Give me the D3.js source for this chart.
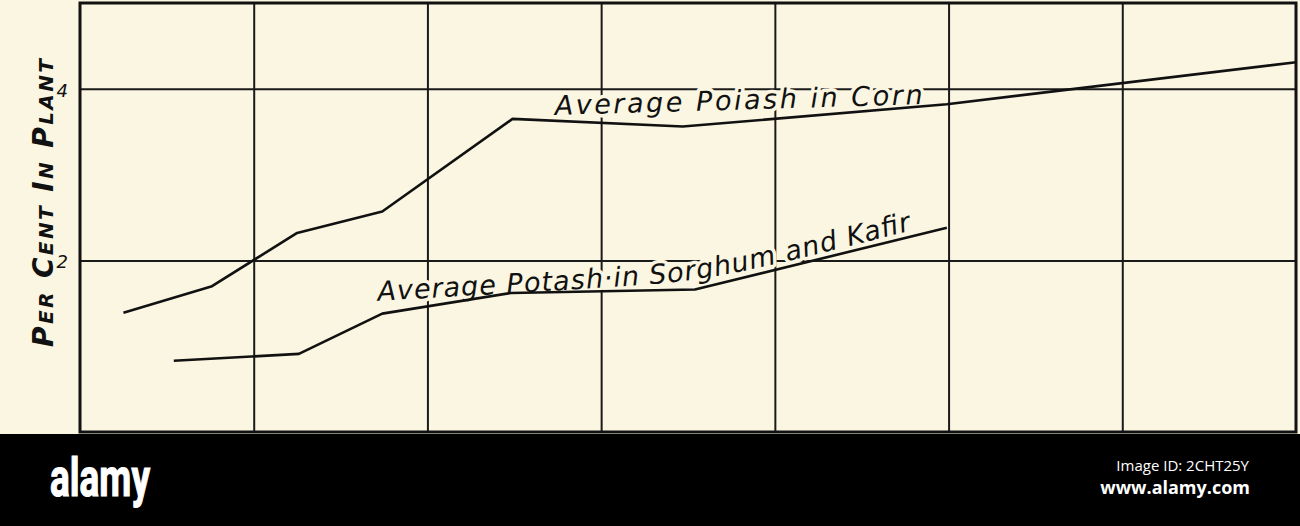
<!DOCTYPE html>
<html>
<head>
<meta charset="utf-8">
<script src="https://cdn.jsdelivr.net/npm/d3@7"></script>
<style>
  html, body { margin: 0; padding: 0; background: #000; }
  svg { display: block; }
  .grid line { stroke: #1a1a1a; stroke-width: 2; }
  .grid .domain { display: none; }
  .hand { font-family: "DejaVu Sans", "Liberation Sans", sans-serif; font-style: italic; fill: #111; }
</style>
</head>
<body>
<svg id="chart" width="1300" height="526"></svg>
<script>
// Values (x = position along the horizontal, y = per cent potash in plant)
var cornX   = [0.25, 0.76, 1.25, 1.74, 2.49, 3.47, 4.99, 7.00];
var cornPct = [1.39, 1.70, 2.32, 2.57, 3.65, 3.56, 3.82, 4.31];

var sorghumX   = [0.54, 1.26, 1.74, 2.48, 3.54, 4.99];
var sorghumPct = [0.83, 0.91, 1.38, 1.62, 1.66, 2.38];

var xGridValues = [1, 2, 3, 4, 5, 6];
var yTickValues = [2, 4];
var yTickLabels = ['2', '4'];

var cornLabel    = 'Average Poiash in Corn';
var sorghumLabel = 'Average Potash\u00b7in Sorghum and Kafir';
var yTitleWords  = ['PER', 'CENT', 'IN', 'PLANT'];

var paper = '#faf6e2';

var svg = d3.select('#chart');

// plate area (the black strip under it is the stock-photo footer)
var plate = { left: 80, right: 1296, top: 3, bottom: 432 };

svg.append('rect')
	.attr('x', 0).attr('y', 0)
	.attr('width', 1300).attr('height', 434)
	.attr('fill', paper);

var x = d3.scaleLinear().domain([0, 7]).range([plate.left, plate.right]);
var y = d3.scaleLinear().domain([0, 5]).range([plate.bottom, plate.top]);

var innerW = plate.right - plate.left;
var innerH = plate.bottom - plate.top;

// vertical rules
svg.append('g')
	.attr('class', 'grid')
	.attr('transform', 'translate(0,' + plate.bottom + ')')
	.call(d3.axisBottom(x).tickValues(xGridValues).tickSize(-innerH).tickFormat(''));

// horizontal rules with the 2 and 4 marks
var yAxis = svg.append('g')
	.attr('class', 'grid')
	.attr('transform', 'translate(' + plate.left + ',0)')
	.call(d3.axisLeft(y)
		.tickValues(yTickValues)
		.tickSize(-innerW)
		.tickPadding(12)
		.tickFormat(function(d, i) { return yTickLabels[i]; }));

yAxis.selectAll('text')
	.attr('class', 'hand')
	.style('font-size', '18px')
	.attr('dy', '0.4em');

// frame
svg.append('rect')
	.attr('x', x(0)).attr('y', y(5))
	.attr('width', innerW).attr('height', innerH)
	.attr('fill', 'none')
	.attr('stroke', '#111')
	.attr('stroke-width', 3);

// lettering goes under the curves; its paper-coloured halo breaks the rules like the drafting did
function halo(sel) {
	sel.attr('stroke', paper)
		.attr('stroke-width', 7)
		.attr('stroke-linejoin', 'round')
		.attr('paint-order', 'stroke');
}

var cornAt = [2.734, 3.695];
svg.append('text')
	.attr('class', 'hand')
	.attr('transform', 'translate(' + x(cornAt[0]) + ',' + y(cornAt[1]) + ') rotate(-1.7)')
	.attr('font-size', 27)
	.attr('textLength', 368)
	.attr('lengthAdjust', 'spacing')
	.text(cornLabel)
	.call(halo);

// baseline the sorghum lettering follows
var sorghumLabelPath = [[1.716, 1.53], [3.20, 1.70], [3.70, 1.79], [4.824, 2.37]];
svg.append('path')
	.attr('id', 'sorghum-label-path')
	.attr('d', d3.line().curve(d3.curveBasis)
		.x(function(d) { return x(d[0]); })
		.y(function(d) { return y(d[1]); })(sorghumLabelPath))
	.attr('fill', 'none');

svg.append('text')
	.attr('class', 'hand')
	.attr('font-size', 27)
	.call(halo)
	.append('textPath')
	.attr('href', '#sorghum-label-path')
	.attr('textLength', 540)
	.attr('lengthAdjust', 'spacing')
	.text(sorghumLabel);

var line = d3.line()
	.x(function(d) { return x(d[0]); })
	.y(function(d) { return y(d[1]); });

var corn = d3.zip(cornX, cornPct);
var sorghum = d3.zip(sorghumX, sorghumPct);

[corn, sorghum].forEach(function(s) {
	svg.append('path')
		.datum(s)
		.attr('d', line)
		.attr('fill', 'none')
		.attr('stroke', '#111')
		.attr('stroke-width', 2.6)
		.attr('stroke-linejoin', 'round');
});

// axis title, hand drawn small caps
var title = svg.append('text')
	.attr('class', 'hand')
	.attr('font-weight', 'bold')
	.attr('text-anchor', 'middle')
	.attr('transform', 'translate(53,203) rotate(-90)')
	.attr('textLength', 288)
	.attr('lengthAdjust', 'spacing');

yTitleWords.forEach(function(w, i) {
	title.append('tspan').attr('font-size', 28).text((i ? ' ' : '') + w.charAt(0));
	title.append('tspan').attr('font-size', 20).text(w.slice(1));
});

// footer strip
svg.append('rect')
	.attr('x', 0).attr('y', 434)
	.attr('width', 1300).attr('height', 92)
	.attr('fill', '#000');

svg.append('text')
	.attr('x', 50).attr('y', 496)
	.attr('fill', '#fff')
	.attr('font-family', '"Liberation Sans Narrow", "Roboto", sans-serif')
	.attr('font-weight', 'bold')
	.attr('font-size', 54)
	.attr('textLength', 100)
	.attr('lengthAdjust', 'spacingAndGlyphs')
	.attr('stroke', '#fff')
	.attr('stroke-width', 1.2)
	.text('alamy');

svg.append('text')
	.attr('x', 1249).attr('y', 471)
	.attr('text-anchor', 'end')
	.attr('fill', '#fff')
	.attr('font-family', '"Open Sans", sans-serif')
	.attr('font-size', 15)
	.text('Image ID: 2CHT25Y');

svg.append('text')
	.attr('x', 1250).attr('y', 494)
	.attr('text-anchor', 'end')
	.attr('fill', '#fff')
	.attr('font-family', '"Open Sans", sans-serif')
	.attr('font-weight', 'bold')
	.attr('font-size', 18)
	.text('www.alamy.com');
</script>
</body>
</html>
